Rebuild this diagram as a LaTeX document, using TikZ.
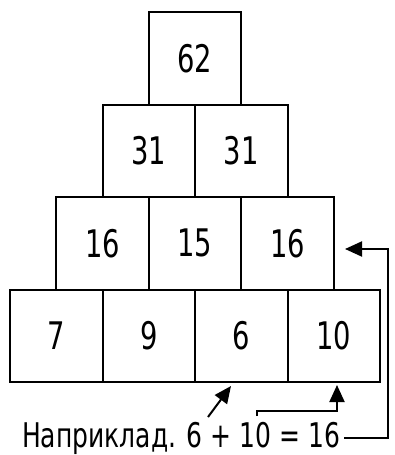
\documentclass[tikz,border=0pt]{standalone}
\usepackage{fontspec}
\setmainfont[FakeStretch=0.72]{DejaVu Sans}
\newfontfamily\labelfont[FakeStretch=0.735]{DejaVu Sans}
\usetikzlibrary{arrows.meta}
\tikzset{
  cell/.style={draw, line width=2pt, rectangle, minimum width=92.5pt, minimum height=92.5pt, inner sep=0pt, font=\fontsize{38}{40}\selectfont},
  conn/.style={line width=2pt, -{Triangle[length=17pt,width=15pt]}}
}
\begin{document}
\begin{tikzpicture}[x=1pt,y=-1pt]
\useasboundingbox (0,0) rectangle (394,455);
% row 1
\node[cell] (t) at (195,58.25) {62};
% row 2
\node[cell] (m1) at (148.75,150.75) {31};
\node[cell] (m2) at (241.25,150.75) {31};
% row 3
\node[cell] (b1) at (102.5,243.25) {16};
\node[cell] (b2) at (195,243.25) {15};
\node[cell] (b3) at (287.5,243.25) {16};
% row 4
\node[cell] (c1) at (56.25,335.75) {7};
\node[cell] (c2) at (148.75,335.75) {9};
\node[cell] (c3) at (241.25,335.75) {6};
\node[cell] (c4) at (333.75,335.75) {10};
% label
\node[anchor=base west, inner sep=0pt, font=\labelfont\fontsize{34}{36}\selectfont] (ex) at (22,447) {Наприклад. 6 + 10 = 16};
% connectors
\coordinate (a1s) at (208,417);
\coordinate (a1e) at (231,386);
\draw[conn] (a1s) -- (a1e);
\coordinate (a2s) at (257,416);
\coordinate (a2e) at (337,385);
\draw[conn] (a2s) -- (257,411) -- (337,411) -- (a2e);
\coordinate (a3s) at (344,438);
\coordinate (a3e) at (345,249);
\draw[conn] (a3s) -- (388,438) -- (388,249) -- (a3e);
\end{tikzpicture}
\end{document}
